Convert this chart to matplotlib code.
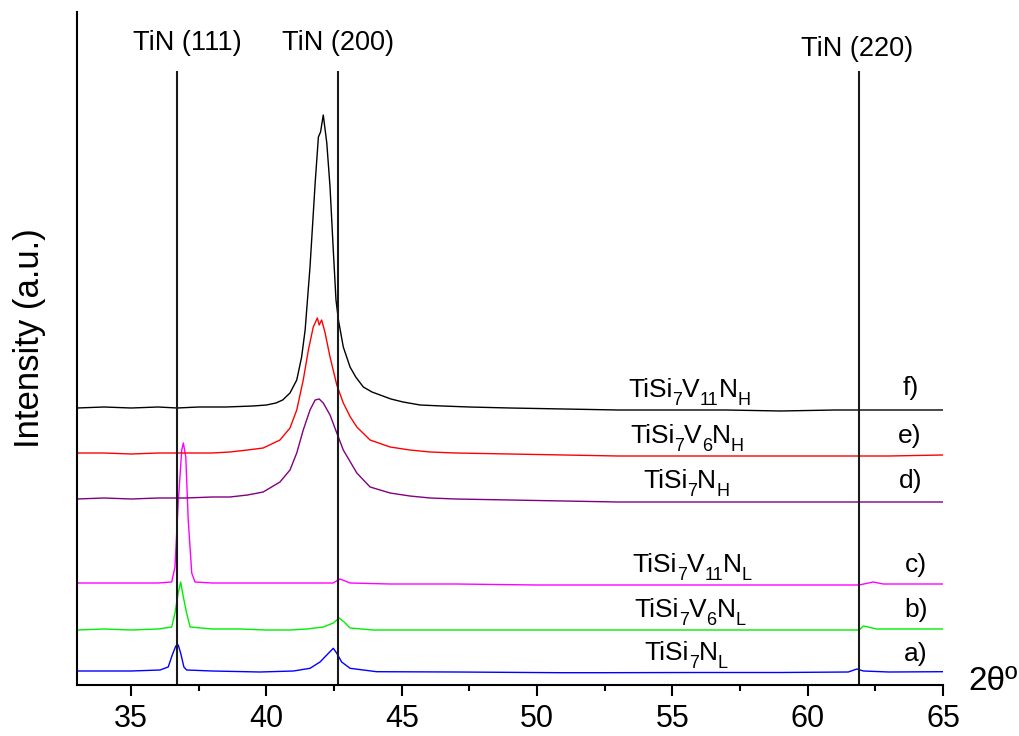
import matplotlib
matplotlib.use("Agg")
import matplotlib.pyplot as plt
from matplotlib.ticker import MultipleLocator

plt.rcParams['font.family'] = ['Liberation Sans', 'DejaVu Sans']

# ---- data (2theta in degrees, intensity in arbitrary units incl. offset) ----
x_f = [33, 34, 35, 36, 36.7, 37.5, 38.5, 39.5, 40.0, 40.35, 40.6, 40.87, 41.12, 41.30, 41.43,
       41.61, 41.80, 41.92, 42.00, 42.10, 42.23, 42.35, 42.47, 42.57, 42.66, 42.84, 43.09, 43.3,
       43.58, 43.9, 44.20, 44.6, 45.05, 45.68, 46.5, 47.5, 49, 51, 53, 55, 57, 59, 61, 63, 65]
y_f = [277, 278, 277, 278, 277, 278, 278, 279, 280, 282, 285, 292, 305, 328, 355,
       418, 502, 548, 553, 570, 542, 498, 435, 385, 365, 338, 318, 308,
       298, 293, 290, 286, 283, 280, 279, 278, 277, 276, 275, 275, 275, 274, 275, 275, 275]

x_e = [33, 34, 35, 36, 37, 38, 38.65, 39.3, 39.88, 40.5, 40.87, 41.12, 41.36, 41.55, 41.73,
       41.88, 41.95, 42.04, 42.16, 42.35, 42.60, 42.84, 43.1, 43.34, 43.83, 44.57, 45.3, 46.05,
       47, 49, 51, 53, 55, 57, 59, 61, 63, 65]
y_e = [232, 232, 231, 232, 232, 232, 233, 235, 237, 245, 257, 275, 305, 335, 358,
       367, 360, 365, 353, 328, 300, 282, 268, 258, 245, 238, 235, 233,
       232, 231, 230, 229, 229, 229, 229, 229, 229, 230]

x_d = [33, 34, 35, 36, 37, 38, 38.65, 39.3, 39.88, 40.5, 40.87, 41.12, 41.36, 41.61, 41.80,
       41.95, 42.10, 42.35, 42.60, 42.84, 43.34, 43.83, 44.57, 45.3, 46.05, 47, 49, 51, 53,
       55, 57, 59, 61, 63, 65]
y_d = [186, 187, 186, 187, 187, 188, 188, 190, 193, 203, 215, 232, 255, 275, 285,
       286, 282, 270, 252, 235, 212, 198, 192, 189, 187, 186, 185, 184, 183,
       183, 183, 183, 183, 183, 183]

x_c = [33, 34, 35, 36, 36.50, 36.62, 36.74, 36.87, 36.93, 37.02, 37.11, 37.24, 37.36, 38, 39,
       40.24, 41.5, 42.46, 42.72, 43.09, 44.57, 47, 50, 53, 56, 59, 61.9, 62.42, 62.8, 64, 65]
y_c = [102, 102, 102, 102, 103, 118, 182, 235, 242, 228, 165, 112, 103, 102, 102,
       102, 102, 102, 106, 102, 101, 101, 100, 100, 100, 100, 100, 103, 101, 101, 101]

x_b = [33, 34, 35, 36, 36.50, 36.62, 36.74, 36.83, 36.93, 37.05, 37.18, 38, 39.02, 40, 40.87,
       41.5, 42.10, 42.47, 42.69, 42.87, 43.09, 43.95, 46, 49, 52.33, 56, 59, 61.9, 62.06,
       62.55, 63.5, 65]
y_b = [55, 56, 55, 56, 58, 72, 92, 103, 88, 72, 58, 56, 56, 55, 55,
       56, 58, 62, 67, 63, 57, 55, 55, 55, 55, 55, 55, 55, 59,
       56, 56, 56]

x_a = [33, 34, 35, 36.07, 36.37, 36.52, 36.65, 36.74, 36.83, 36.95, 37.05, 38, 39.76, 41,
       41.61, 41.98, 42.29, 42.47, 42.60, 42.78, 43.09, 44.07, 47, 50.85, 52.33, 56, 59, 61.5,
       61.82, 62.06, 63, 65]
y_a = [14, 14, 14, 15, 18, 30, 39, 40, 32, 18, 15, 14, 13, 14,
       16.7, 23, 31.7, 36.7, 31.7, 23, 16.7, 13.3, 13, 12.3, 12.3, 12.5, 12.5, 13,
       16, 14, 13, 13.3]

series_x = [x_a, x_b, x_c, x_d, x_e, x_f]
series_y = [y_a, y_b, y_c, y_d, y_e, y_f]
series_colors = ['#0000ff', '#00ee00', '#ff00ff', '#800080', '#ff0000', '#000000']
# label pieces: (text, is_subscript)
series_names = [[('TiSi', 0), ('7', 1), ('N', 0), ('L', 1)],
                [('TiSi', 0), ('7', 1), ('V', 0), ('6', 1), ('N', 0), ('L', 1)],
                [('TiSi', 0), ('7', 1), ('V', 0), ('11', 1), ('N', 0), ('L', 1)],
                [('TiSi', 0), ('7', 1), ('N', 0), ('H', 1)],
                [('TiSi', 0), ('7', 1), ('V', 0), ('6', 1), ('N', 0), ('H', 1)],
                [('TiSi', 0), ('7', 1), ('V', 0), ('11', 1), ('N', 0), ('H', 1)]]
series_letters = ['a)', 'b)', 'c)', 'd)', 'e)', 'f)']

peak_pos = [36.68, 42.63, 61.90]
peak_labels = ['TiN (111)', 'TiN (200)', 'TiN (220)']

# ---- layout ----
W, H = 1020, 736
fig = plt.figure(figsize=(W / 100, H / 100), dpi=100)
ax = fig.add_axes([77 / W, 1 - 685 / H, (943 - 77) / W, (685 - 12) / H])
ax.set_xlim(33, 65)
ax.set_ylim(0, 673)

for xs, ys, c in zip(series_x, series_y, series_colors):
    ax.plot(xs, ys, color=c, lw=1.0)

ax.vlines(peak_pos, 0, 614, color='#1a1a1a', lw=1.5)

label_x = [37.08, 42.63, 61.83]
label_y = [642, 642, 636]
for lx, ly, t in zip(label_x, label_y, peak_labels):
    ax.text(lx, ly, t, ha='center', va='center', fontsize=19.5)

renderer = fig.canvas.get_renderer()
MAIN_FS, SUB_FS, SUB_DROP = 19, 13, 8  # pt, pt, px


def draw_label(xc, yb, parts):
    px, py = ax.transData.transform((xc, yb))
    texts, widths = [], []
    for s, sub in parts:
        t = fig.text(0, 0, s, fontsize=SUB_FS if sub else MAIN_FS, ha='left', va='baseline')
        widths.append(t.get_window_extent(renderer).width)
        texts.append((t, sub))
    cur = px - sum(widths) / 2
    for (t, sub), w in zip(texts, widths):
        t.set_position((cur / W, (py - (SUB_DROP if sub else 0)) / H))
        cur += w


name_x = [55.51, 55.65, 55.73, 55.51, 55.54, 55.62]
name_y = [25, 68, 113, 197, 242, 288]
letter_x = [64.0, 64.0, 64.0, 63.82, 63.78, 63.82]
letter_y = [24, 68, 113, 197, 242, 290]
for parts, nx, ny, lt, lx, lyy in zip(series_names, name_x, name_y, series_letters, letter_x, letter_y):
    draw_label(nx, ny, parts)
    ax.text(lx, lyy, lt, ha='center', va='baseline', fontsize=19)

ax.text(65.95, -5, '2θº', ha='left', va='baseline', fontsize=24, clip_on=False)

ax.spines['top'].set_visible(False)
ax.spines['right'].set_visible(False)
ax.spines['left'].set_linewidth(1.5)
ax.spines['bottom'].set_linewidth(1.5)
ax.set_yticks([])
ax.xaxis.set_major_locator(MultipleLocator(5))
ax.xaxis.set_minor_locator(MultipleLocator(2.5))
ax.tick_params(axis='x', which='major', direction='out', length=8, width=1.5, labelsize=22, pad=6)
ax.tick_params(axis='x', which='minor', direction='out', length=4.5, width=1.5)

fig.text(30 / W, 1 - 338 / H, 'Intensity (a.u.)', rotation=90, ha='center', va='center', fontsize=25)

fig.savefig('out.png', dpi=100)
